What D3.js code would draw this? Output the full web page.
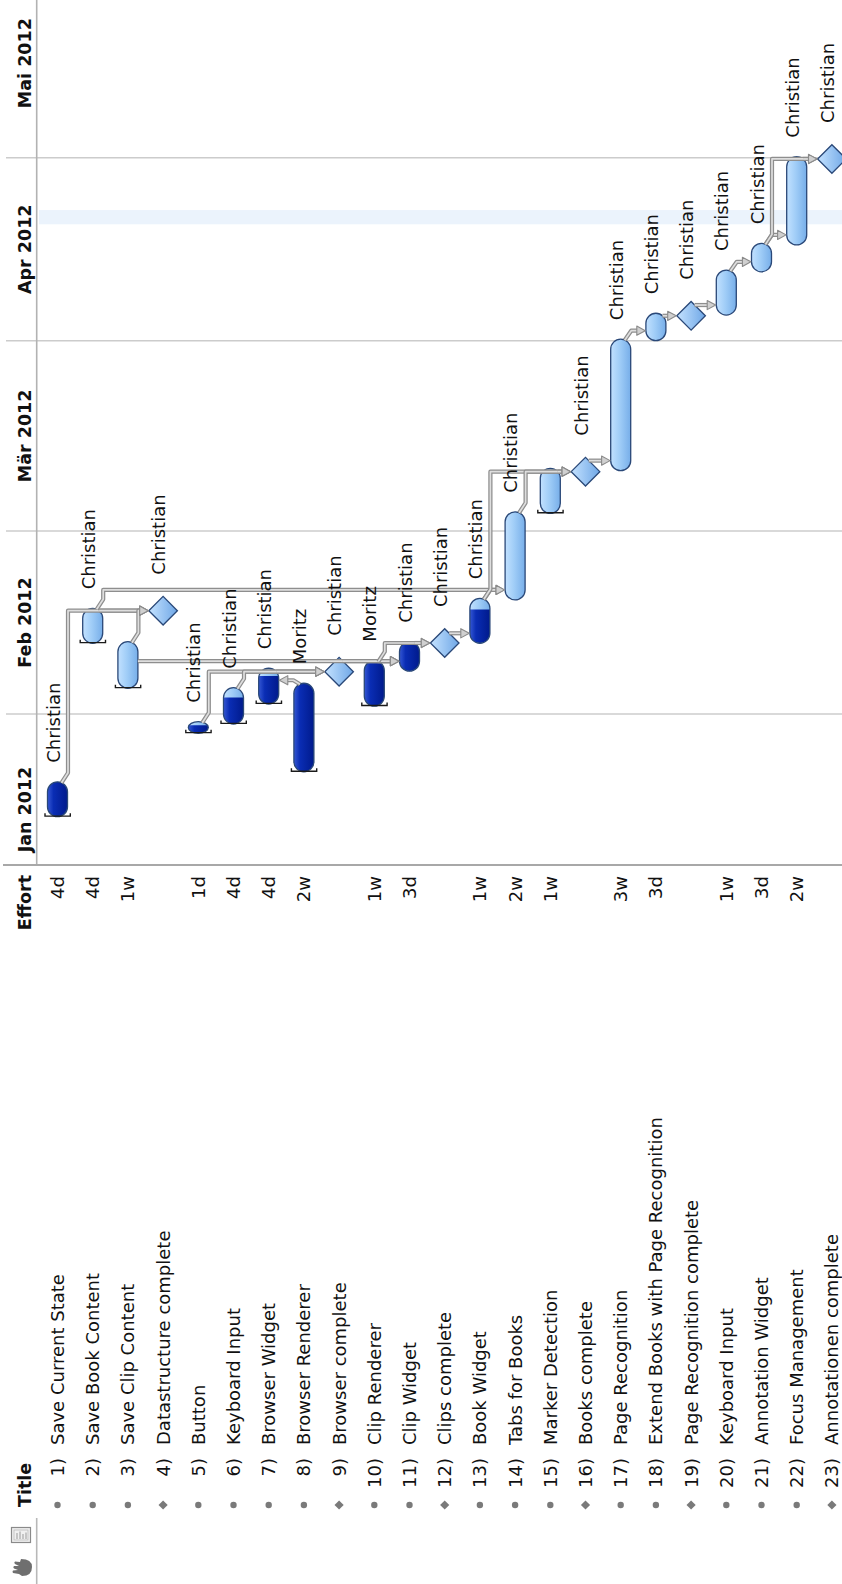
<!DOCTYPE html>
<html><head><meta charset="utf-8">
<script src="https://cdn.jsdelivr.net/npm/d3@7"></script>
<style>html,body{margin:0;padding:0;background:#fff;}svg{display:block;font-family:"DejaVu Sans",sans-serif;}</style>
</head><body><svg id="c" width="842" height="1584"></svg>
<script>
// ---------------- data ----------------
const taskNames = ["Save Current State","Save Book Content","Save Clip Content","Datastructure complete","Button","Keyboard Input","Browser Widget","Browser Renderer","Browser complete","Clip Renderer","Clip Widget","Clips complete","Book Widget","Tabs for Books","Marker Detection","Books complete","Page Recognition","Extend Books with Page Recognition","Page Recognition complete","Keyboard Input","Annotation Widget","Focus Management","Annotationen complete"];
const efforts = ["4d","4d","1w","","1d","4d","4d","2w","","1w","3d","","1w","2w","1w","","3w","3d","","1w","3d","2w",""];
const kinds = ["t","t","t","m","t","t","t","t","m","t","t","m","t","t","t","m","t","t","m","t","t","t","m"];
const starts = ["2012-01-15 08:00","2012-02-12 05:00","2012-02-05 02:00","2012-02-17 09:00","2012-01-28 21:00","2012-01-30 09:00","2012-02-02 14:00","2012-01-22 15:00","2012-02-07 17:00","2012-02-02 06:00","2012-02-07 19:00","2012-02-12 06:00","2012-02-12 05:00","2012-02-19 02:00","2012-03-03 21:00","2012-03-10 16:00","2012-03-10 20:00","2012-04-01 00:00","2012-04-05 02:00","2012-04-05 05:00","2012-04-12 07:00","2012-04-16 17:00","2012-04-30 19:00"];
const ends = ["2012-01-21 00:00","2012-02-17 18:00","2012-02-12 11:00",null,"2012-01-30 18:00","2012-02-05 04:00","2012-02-08 06:00","2012-02-05 21:00",null,"2012-02-09 11:00","2012-02-12 11:00",null,"2012-02-19 08:00","2012-03-04 03:00","2012-03-11 05:00",null,"2012-04-01 06:00","2012-04-05 12:00",null,"2012-04-12 14:00","2012-04-16 23:00","2012-05-01 04:00",null];
const progress = [1,0,0,0,0.7,0.73,0.78,1,0,1,0.93,0,0.75,0,0,0,0,0,0,0,0,0,0];
const resources = ["Christian","Christian","","Christian","Christian","Christian","Christian","Moritz","Christian","Moritz","Christian","Christian","Christian","Christian","","Christian","Christian","Christian","Christian","Christian","Christian","Christian","Christian"];
const baselineMarks = [1,1,1,0,1,1,1,1,0,1,0,0,0,0,1,0,0,0,0,0,0,0,0];
const links = [[1,4],[2,4],[3,4],[2,14],[3,11],[5,9],[6,9],[7,9],[8,7],[9,11],[10,11],[10,12],[11,12],[12,13],[13,14],[13,16],[14,16],[15,16],[16,17],[17,18],[18,19],[19,20],[20,21],[21,22],[21,23],[22,23]];
const monthStarts = ["2012-01-01 00:00","2012-02-01 00:00","2012-03-01 00:00","2012-04-01 00:00","2012-05-01 00:00","2012-06-01 00:00"];
const monthLabels = ["Jan 2012","Feb 2012","Mär 2012","Apr 2012","Mai 2012"];
const viewRange = ["2012-01-07 12:00","2012-05-27 00:00"];
const highlight = ["2012-04-20 02:00","2012-04-22 10:00"];
const headers = ["Title","Effort"];

// ---------------- layout ----------------
const parse = d3.timeParse("%Y-%m-%d %H:%M");
const LW = 1584, LH = 842;         // landscape frame (rotated onto the page)
const chartX0 = 719, headH = 36.7;
const ms = monthStarts.map(parse);
const x = d3.scaleTime()
  .domain([parse(viewRange[0]), ms[1], ms[2], ms[3], ms[4], parse(viewRange[1])])
  .range([chartX0, 870, 1053, 1243.3, 1426.3, 1584.9]);
const yBand = d3.scaleBand().domain(d3.range(taskNames.length)).range([39.9, 39.9 + 35.2*taskNames.length]);
const rowY = i => yBand(i) + yBand.bandwidth()/2;

const svg = d3.select("#c");
const defs = svg.append("defs");
function lg(id, stops){ const g = defs.append("linearGradient").attr("id",id).attr("x1",0).attr("y1",0).attr("x2",0).attr("y2",1);
  stops.forEach(([o,c])=>g.append("stop").attr("offset",o).attr("stop-color",c)); }
lg("gLight", [[0,"#c2e1ff"],[0.45,"#a0cdf7"],[1,"#77aee9"]]);
lg("gDark", [[0,"#3558d4"],[0.3,"#0a2db4"],[1,"#001a8c"]]);
lg("gDia", [[0,"#c4e2ff"],[1,"#6fa7e6"]]);

svg.append("rect").attr("width",842).attr("height",1584).attr("fill","#fff");
const g = svg.append("g").attr("transform",`translate(0,${LW}) rotate(-90)`);

const items = taskNames.map((n,i)=>{
  const m = kinds[i]==="m"; const s = parse(starts[i]); const e = m ? s : parse(ends[i]);
  return {i, m, xs:x(s), xe:x(e), yc:rowY(i)};
});

// highlight band
g.append("rect").attr("x",x(parse(highlight[0]))).attr("y",39).attr("width",x(parse(highlight[1]))-x(parse(highlight[0]))).attr("height",LH-39).attr("fill","#ebf3fc");

// month gridlines
ms.slice(1,5).forEach(d=>{
  g.append("line").attr("x1",x(d)).attr("x2",x(d)).attr("y1",6).attr("y2",LH).attr("stroke","#cccccc").attr("stroke-width",1.5);
});
// header border lines
g.append("line").attr("x1",chartX0).attr("x2",LW).attr("y1",headH).attr("y2",headH).attr("stroke","#b2b2b2").attr("stroke-width",1.6);
g.append("line").attr("x1",0).attr("x2",66).attr("y1",headH).attr("y2",headH).attr("stroke","#b8b8b8").attr("stroke-width",1.6);
g.append("line").attr("x1",chartX0).attr("x2",chartX0).attr("y1",3).attr("y2",LH).attr("stroke","#a8a8a8").attr("stroke-width",2);

// header text
const hdr = g.append("g").attr("font-weight","bold").attr("font-size",17.5).attr("fill","#111");
hdr.append("text").attr("x",77).attr("y",31).text(headers[0]);
hdr.append("text").attr("x",709).attr("y",31).attr("text-anchor","end").text(headers[1]);
monthLabels.forEach((t,k)=>{
  const mid = new Date((ms[k].getTime()+ms[k+1].getTime())/2);
  hdr.append("text").attr("x",x(mid)).attr("y",31).attr("text-anchor","middle").text(t);
});

// table rows
const tb = g.append("g").attr("font-size",18).attr("fill","#111");
items.forEach((it,i)=>{
  if (it.m) tb.append("path").attr("d",`M79,${it.yc-4.6}L83.6,${it.yc}L79,${it.yc+4.6}L74.4,${it.yc}Z`).attr("fill","#7a7a7a");
  else tb.append("circle").attr("cx",79).attr("cy",it.yc).attr("r",3.2).attr("fill","#7a7a7a");
  tb.append("text").attr("x",126).attr("y",it.yc+6.5).attr("text-anchor","end").text(`${i+1})`);
  tb.append("text").attr("x",139).attr("y",it.yc+6.5).text(taskNames[i]);
  if (efforts[i]) tb.append("text").attr("x",708).attr("y",it.yc+6.5).attr("text-anchor","end").text(efforts[i]);
});

// bars
const bars = g.append("g");
items.filter(d=>!d.m).forEach(it=>{
  const w = it.xe-it.xs, rx = Math.min(10,w/2);
  bars.append("rect").attr("x",it.xs).attr("y",it.yc-10).attr("width",w).attr("height",20).attr("rx",rx).attr("ry",10)
    .attr("fill","url(#gLight)");
  const p = progress[it.i];
  if (p>0){
    const cid = "clip"+it.i;
    defs.append("clipPath").attr("id",cid).append("rect").attr("x",it.xs-2).attr("y",it.yc-12).attr("width",w*p+2).attr("height",24);
    bars.append("rect").attr("x",it.xs).attr("y",it.yc-10).attr("width",w).attr("height",20).attr("rx",rx).attr("ry",10)
      .attr("fill","url(#gDark)").attr("clip-path",`url(#${cid})`);
  }
  bars.append("rect").attr("x",it.xs).attr("y",it.yc-10).attr("width",w).attr("height",20).attr("rx",rx).attr("ry",10)
    .attr("fill","none").attr("stroke","#2a4878").attr("stroke-width",1.3);
  if (baselineMarks[it.i]){
    bars.append("path").attr("d",`M${it.xs+3.5},${it.yc-12.5}H${it.xs+0.6}V${it.yc+12.8}H${it.xs+3.5}`)
      .attr("fill","none").attr("stroke","#1a1a1a").attr("stroke-width",1.4);
  }
});
// milestones
items.filter(d=>d.m).forEach(it=>{
  const r = 14.3;
  bars.append("path").attr("d",`M${it.xs},${it.yc-r}L${it.xs+r},${it.yc}L${it.xs},${it.yc+r}L${it.xs-r},${it.yc}Z`)
    .attr("fill","url(#gDia)").attr("stroke","#2a4878").attr("stroke-width",1.3);
});

// dependency routing
const predsOf = {};
links.forEach(([a,b])=>{ (predsOf[b-1] = predsOf[b-1]||[]).push(a-1); });
function edgeDy(it, xx){
  if (it.m) return Math.max(0, 14.3 - Math.abs(xx-it.xs));
  const w = it.xe-it.xs, rx = Math.min(10,w/2);
  let u = 0;
  if (xx < it.xs+rx) u = (it.xs+rx-xx)/rx; else if (xx > it.xe-rx) u = (xx-(it.xe-rx))/rx;
  return 10*Math.sqrt(Math.max(0,1-u*u));
}
function span(it){ return it.m ? [it.xs-15, it.xs+15] : [it.xs-2, it.xe+2]; }
const pipes = g.append("g"), arrows = g.append("g");
const line = d3.line();
links.forEach(([a,b])=>{
  const P = items[a-1], S = items[b-1];
  let pts, tip, dir;
  if (S.yc < P.yc){
    const xx = P.xe+3, yEnd = S.yc+10.6;
    pts = [[P.xe-1,P.yc-4],[xx,P.yc-10.5],[xx,yEnd+8]]; tip=[xx,yEnd]; dir=-1;
  } else {
    let xt = S.m ? S.xs : S.xs+10;
    const yTop = S.m ? S.yc-14.9 : S.yc-10.6;
    let moved = true, guard = 0;
    while (moved && guard++<10){ moved=false;
      for (let k=P.i+1;k<S.i;k++){
        if ((predsOf[S.i]||[]).includes(k)) continue;
        const sp = span(items[k]);
        if (xt>=sp[0] && xt<=sp[1]){ xt = (items[k].m ? items[k].xs+15 : items[k].xe)+8; moved=true; }
      }
    }
    if (P.m){
      if (Math.abs(xt-P.xs) < 14.3) pts = [[xt,P.yc+edgeDy(P,xt)],[xt,yTop-8]];
      else pts = [[P.xs+14.3,P.yc],[xt,P.yc],[xt,yTop-8]];
    } else if (xt>=P.xs && xt<=P.xe){
      pts = [[xt,P.yc+edgeDy(P,xt)],[xt,yTop-8]];
    } else {
      const dx = Math.max(P.xe, Math.min(P.xe+9, xt));
      pts = [[P.xe-1,P.yc+4],[dx,P.yc+10.5],[xt,P.yc+10.5],[xt,yTop-8]];
    }
    tip=[xt,yTop]; dir=1;
  }
  pipes.append("path").attr("d",line(pts)).attr("fill","none").attr("stroke","#8e8e8e").attr("stroke-width",4.2).attr("stroke-linejoin","round");
  pipes.append("path").attr("d",line(pts)).attr("fill","none").attr("stroke","#dedede").attr("stroke-width",1.7).attr("stroke-linejoin","round");
  const [tx,ty] = tip;
  arrows.append("path").attr("d",`M${tx-4.6},${ty-8.5*dir}L${tx+4.6},${ty-8.5*dir}L${tx},${ty}Z`)
    .attr("fill","#d0d0d0").attr("stroke","#8a8a8a").attr("stroke-width",1.1).attr("stroke-linejoin","round");
});

// resource labels
const lab = g.append("g").attr("font-size",18).attr("fill","#111");
items.forEach(it=>{
  if (!resources[it.i]) return;
  const lx = it.m ? it.xs+36 : it.xe+19;
  lab.append("text").attr("x",lx).attr("y",it.yc+2).text(resources[it.i]);
});

// toolbar icons (page coordinates)
const ic = svg.append("g");
ic.append("rect").attr("x",11.5).attr("y",1527.5).attr("width",19).attr("height",15).attr("fill","#f0f0f0").attr("stroke","#8a8a8a").attr("stroke-width",1.2);
ic.append("rect").attr("x",14).attr("y",1530).attr("width",14).attr("height",10).attr("fill","none").attr("stroke","#bbbbbb").attr("stroke-width",0.8);
[[17,1533],[20,1531.5],[23,1534],[26,1532.5]].forEach(([a,b])=>ic.append("line").attr("x1",a).attr("x2",a).attr("y1",b).attr("y2",1539).attr("stroke","#9a9a9a").attr("stroke-width",1));
ic.append("path").attr("d","M21,1559 Q32,1559 32,1567 Q32,1576 22,1576 L19,1574 L13,1573 Q12,1571.5 13,1570.5 L18,1570 L14,1568.5 Q12.5,1567 14,1566 L19,1566 L15,1564 Q13.5,1562.5 15,1561.5 L20,1562 Z").attr("fill","#6f6f6f");
</script></body></html>
